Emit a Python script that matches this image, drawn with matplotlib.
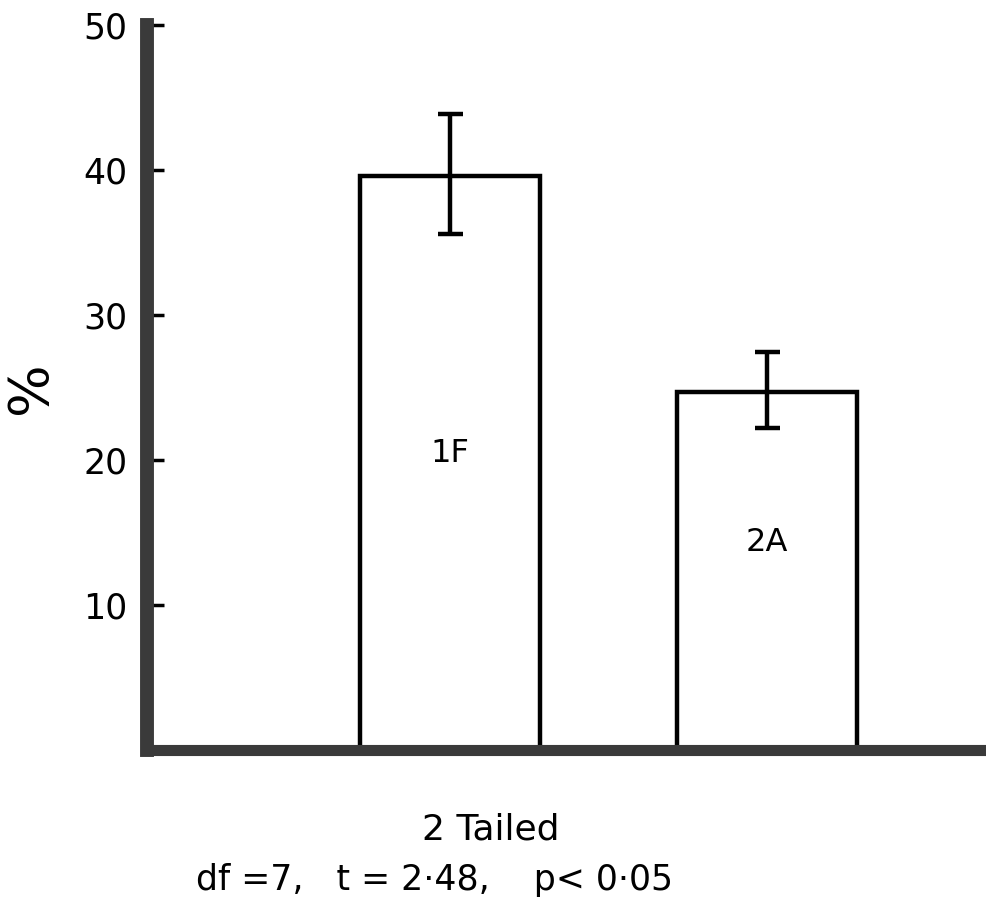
import matplotlib
matplotlib.use("Agg")
import matplotlib.pyplot as plt

groups = ["1F", "2A"]
means = [39.6, 24.7]
err_low = [4.0, 2.5]
err_high = [4.3, 2.8]
yticks = [10, 20, 30, 40, 50]

plt.rcParams['font.family'] = ['DejaVu Sans']

fig = plt.figure(figsize=(9.87, 9.05), dpi=100)
ax = fig.add_axes([0.149, 0.171, 0.851, 0.801])

xpos = [1, 2]
ax.bar(xpos, means, width=0.57, facecolor='white', edgecolor='black',
       linewidth=3.2, zorder=2)
ax.errorbar(xpos, means, yerr=[err_low, err_high], fmt='none',
            ecolor='black', elinewidth=3.2, capsize=9, capthick=3.2, zorder=3)

# labels inside the bars
ax.text(xpos[0], 20.5, groups[0], ha='center', va='center', fontsize=23)
ax.text(xpos[1], 14.3, groups[1], ha='center', va='center', fontsize=23)

ax.set_xlim(0.044, 2.694)
ax.set_ylim(0, 50)
ax.set_xticks([])
ax.set_yticks(yticks)
ax.set_yticklabels([str(t) for t in yticks], fontsize=25)
ax.tick_params(axis='y', direction='in', length=12, width=2.5, pad=14)

for s in ['top', 'right']:
    ax.spines[s].set_visible(False)
ax.spines['left'].set_linewidth(10)
ax.spines['bottom'].set_linewidth(8)
ax.spines['left'].set_color('#3a3a3a')
ax.spines['bottom'].set_color('#3a3a3a')
ax.spines['left'].set_capstyle('projecting')
ax.spines['bottom'].set_capstyle('projecting')

ax.set_ylabel('%', fontsize=40, labelpad=18)

fig.text(0.497, 0.083, '2 Tailed', ha='center', va='center', fontsize=26)
fig.text(0.44, 0.028, 'df =7,   t = 2·48,    p< 0·05', ha='center',
         va='center', fontsize=25)

plt.savefig('out.png', dpi=100)
plt.close()
